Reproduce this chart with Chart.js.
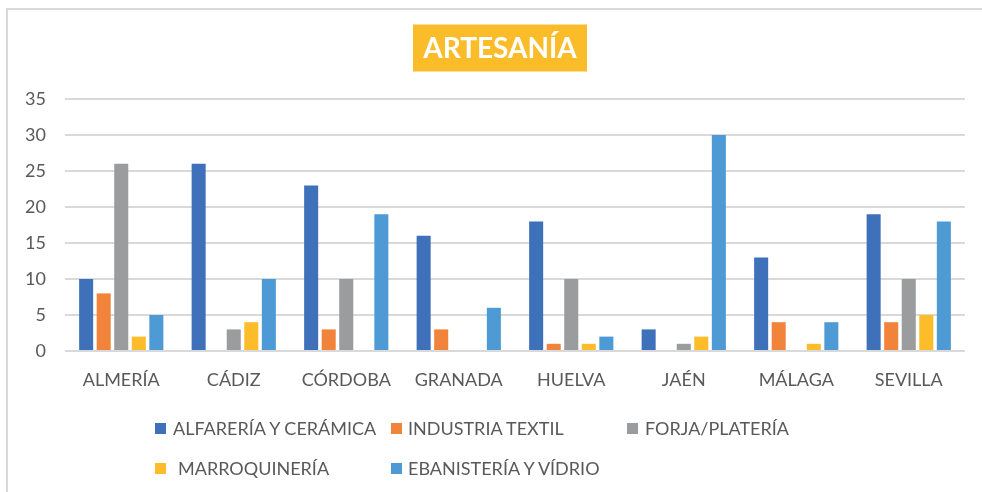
<!DOCTYPE html>
<html>
<head>
<meta charset="utf-8">
<script src="https://cdn.jsdelivr.net/npm/chart.js@4/dist/chart.umd.min.js"></script>
<style>
  html, body { margin: 0; padding: 0; background: #fff; }
  #wrap { position: relative; width: 982px; height: 492px; overflow: hidden; font-family: Lato, "Liberation Sans", sans-serif; }
  #frame { position: absolute; left: 6px; top: 8px; right: -4px; bottom: -4px; border-left: 2px solid #d9d9d9; border-top: 2px solid #d9d9d9; }
  canvas { position: absolute; left: 0; top: 0; }
  .lg { position: absolute; font-size: 18px; color: #595959; white-space: nowrap; line-height: 20px; }
</style>
</head>
<body>
<div id="wrap">
  <div id="frame"></div>
  <canvas id="c" width="982" height="492"></canvas>
  <div id="legend"></div>
</div>
<script>
const titleText = "ARTESANÍA";
const categories = ["ALMERÍA", "CÁDIZ", "CÓRDOBA", "GRANADA", "HUELVA", "JAÉN", "MÁLAGA", "SEVILLA"];
const seriesNames = ["ALFARERÍA Y CERÁMICA", "INDUSTRIA TEXTIL", "FORJA/PLATERÍA", "MARROQUINERÍA", "EBANISTERÍA Y VÍDRIO"];
const alfareria  = [10, 26, 23, 16, 18, 3, 13, 19];
const textil     = [8, 0, 3, 3, 1, 0, 4, 4];
const forja      = [26, 3, 10, 0, 10, 1, 0, 10];
const marroq     = [2, 4, 0, 0, 1, 2, 1, 5];
const ebanisteria= [5, 10, 19, 6, 2, 30, 4, 18];
const yTicks = [0, 5, 10, 15, 20, 25, 30, 35];
const colors = ["#3F71BA", "#F2833A", "#9A9C9D", "#FDBD2A", "#4E9AD4"];
const seriesValues = [alfareria, textil, forja, marroq, ebanisteria];

// legend layout positions (box x, text x, row y)
const legendPos = [
  [155, 173, 423], [391, 408, 423], [627, 645, 423],
  [155, 178, 463], [391, 408, 463]
];
const lg = document.getElementById('legend');
seriesNames.forEach((n, i) => {
  const [bx, tx, y] = legendPos[i];
  const box = document.createElement('i');
  box.style.cssText = `position:absolute;left:${bx}px;top:${y}px;width:11px;height:11px;background:${colors[i]}`;
  lg.appendChild(box);
  const t = document.createElement('div');
  t.className = 'lg';
  t.style.left = tx + 'px';
  t.style.top = (y - 5) + 'px';
  t.textContent = n;
  lg.appendChild(t);
});

const titlePlugin = {
  id: 'boxTitle',
  afterDraw(chart) {
    const ctx = chart.ctx;
    ctx.save();
    ctx.font = 'bold 28px Lato, "Liberation Sans", sans-serif';
    const cx = 500, cy = 48;
    const bw = 174, bh = 47;
    ctx.fillStyle = '#FBBC2A';
    ctx.fillRect(cx - bw / 2, cy - bh / 2, bw, bh);
    ctx.fillStyle = '#ffffff';
    ctx.textAlign = 'center';
    ctx.textBaseline = 'middle';
    ctx.fillText(titleText, cx, cy + 1);
    ctx.restore();
  }
};

const tickFont = { family: 'Lato, "Liberation Sans", sans-serif', size: 18 };

new Chart(document.getElementById('c'), {
  type: 'bar',
  data: {
    labels: categories,
    datasets: seriesNames.map((n, i) => ({
      label: n,
      data: seriesValues[i],
      backgroundColor: colors[i],
      borderWidth: 0,
      categoryPercentage: 0.78,
      barPercentage: 0.8
    }))
  },
  options: {
    responsive: false,
    animation: false,
    layout: { padding: { top: 99, right: 17, bottom: 101, left: 0 } },
    plugins: { legend: { display: false }, title: { display: false }, tooltip: { enabled: false } },
    scales: {
      x: {
        grid: { display: false, drawTicks: false },
        border: { display: false },
        ticks: { color: '#595959', font: tickFont, padding: 18, maxRotation: 0 },
        afterFit(s) { s.height = 40; }
      },
      y: {
        min: 0, max: 35,
        afterBuildTicks(s) { s.ticks = yTicks.map(v => ({ value: v })); },
        grid: { color: '#d9d9d9', lineWidth: 2, drawTicks: false },
        border: { display: false },
        ticks: { color: '#595959', font: tickFont, padding: 19 },
        afterFit(s) { s.width = 65; }
      }
    }
  },
  plugins: [titlePlugin]
});
</script>
</body>
</html>
